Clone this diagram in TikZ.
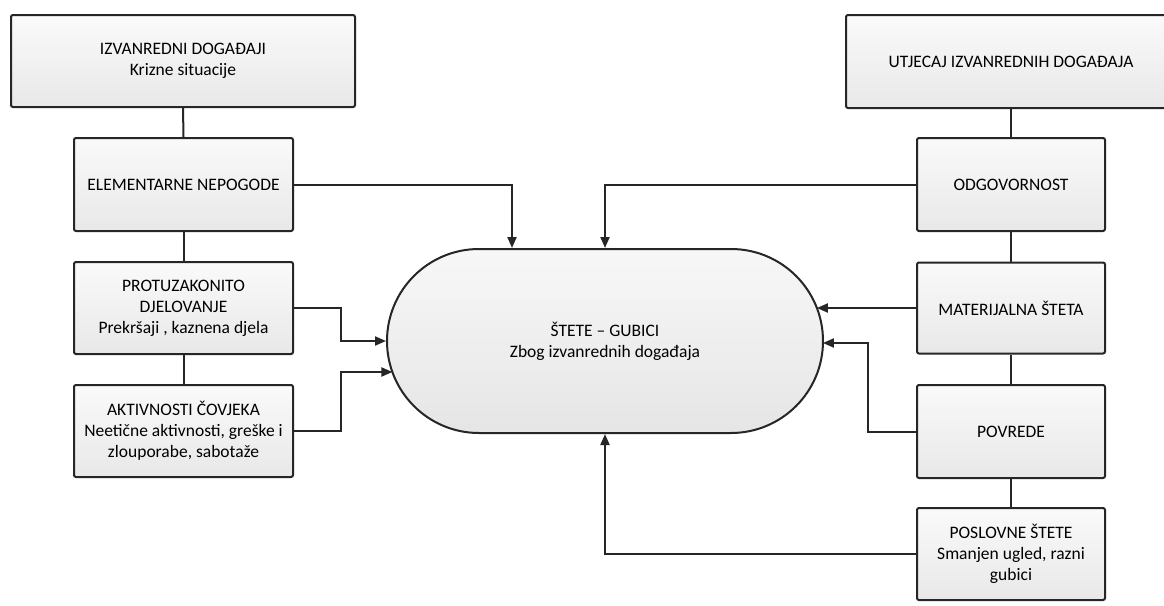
\documentclass[tikz,border=0pt]{standalone}
\usepackage{fontspec}
\setmainfont{Carlito}
\usetikzlibrary{shapes.misc,arrows.meta,calc}
\begin{document}
\begin{tikzpicture}[x=1pt,y=-1pt,
  box/.style={draw=black!85,line width=2pt,rounded corners=2pt,
    top color=gray!4,bottom color=gray!18,align=center,
    font=\fontsize{17.5}{21}\selectfont,inner sep=0pt},
  stad/.style={draw=black!85,line width=2pt,rounded rectangle,
    top color=gray!6,bottom color=gray!20,align=center,
    minimum width=436pt,minimum height=184pt,inner sep=0pt,
    font=\fontsize{17.5}{21}\selectfont},
  link/.style={draw=black!85,line width=2pt},
  arr/.style={link,-{Triangle[length=11pt,width=9pt]}}
]
\useasboundingbox (0,0) rectangle (1164,605);
\fill[white] (0,0) rectangle (1164,605);

% left column
\node[box,minimum width=344pt,minimum height=92pt] (iz) at (183,61) {IZVANREDNI DOGAĐAJI\\Krizne situacije};
\node[box,minimum width=219pt,minimum height=93pt] (el) at (183.5,184.5) {ELEMENTARNE NEPOGODE};
\node[box,minimum width=219pt,minimum height=92pt] (pr) at (183.5,308) {PROTUZAKONITO\\DJELOVANJE\\Prekršaji , kaznena djela};
\node[box,minimum width=219pt,minimum height=92pt] (ak) at (183.5,431) {AKTIVNOSTI ČOVJEKA\\Neetične aktivnosti, greške i\\zlouporabe, sabotaže};

% right column
\node[box,minimum width=330pt,minimum height=93pt] (ut) at (1011,61.5) {UTJECAJ IZVANREDNIH DOGAĐAJA};
\node[box,minimum width=188pt,minimum height=93pt] (od) at (1011,184.5) {ODGOVORNOST};
\node[box,minimum width=188pt,minimum height=91pt] (ma) at (1011,308) {MATERIJALNA ŠTETA};
\node[box,minimum width=188pt,minimum height=93pt] (pv) at (1011,431.5) {POVREDE};
\node[box,minimum width=188pt,minimum height=92pt] (ps) at (1011,554) {POSLOVNE ŠTETE\\Smanjen ugled, razni\\gubici};

% centre
\node[stad] (st) at (605,341) {ŠTETE – GUBICI\\Zbog izvanrednih događaja};

\coordinate (stL2) at (392.4,372);
\coordinate (stR1) at (816.9,308);
\coordinate (stR2) at (822.9,343);

% vertical links
\draw[link] (iz.south) -- (el.north);
\draw[link] (el.south) -- (pr.north);
\draw[link] (pr.south) -- (ak.north);
\draw[link] (od.north) -- (od.north |- ut.south);
\draw[link] (od.south) -- (ma.north);
\draw[link] (ma.south) -- (pv.north);
\draw[link] (pv.south) -- (ps.north);

% arrows into the centre
\draw[arr] (el.east) -| ($(st.north)+(-93,0)$);
\draw[arr] (od.west) -| (st.north);
\draw[arr] (pr.east) -- ++(47,0) |- (st.west);
\draw[arr] (ak.east) -- ++(47,0) |- (stL2);
\draw[arr] (ma.west) -- (stR1);
\draw[arr] (pv.west) -- ++(-48,0) |- (stR2);
\draw[arr] (ps.west) -| (st.south);
\end{tikzpicture}
\end{document}
